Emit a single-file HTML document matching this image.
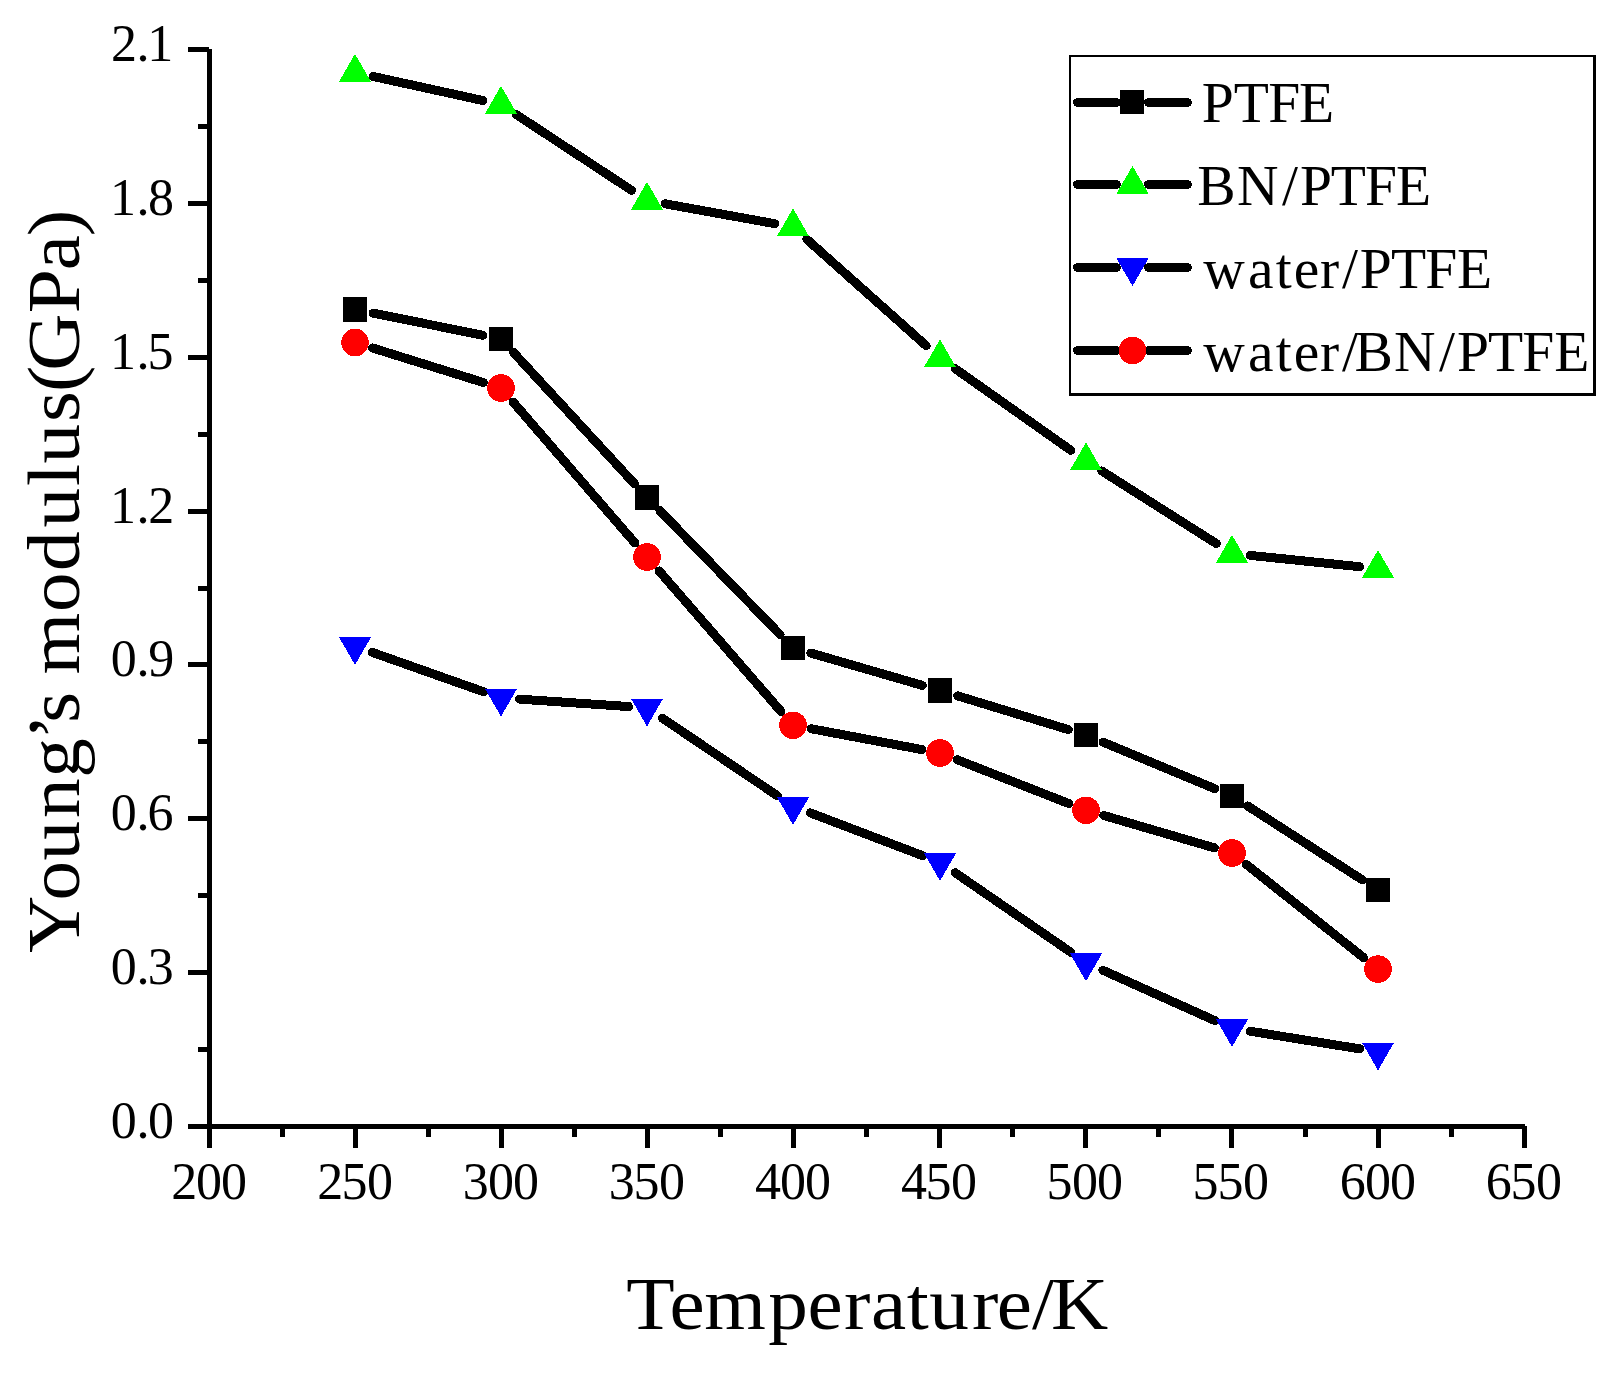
<!DOCTYPE html>
<html><head><meta charset="utf-8"><title>Young's modulus vs Temperature</title>
<style>html,body{margin:0;padding:0;background:#fff;}svg{display:block;}</style>
</head><body>
<svg width="1623" height="1373" viewBox="0 0 1623 1373" shape-rendering="crispEdges">
<rect x="0" y="0" width="1623" height="1373" fill="#fff"/>
<rect x="207" y="49" width="5" height="1080" fill="#000"/>
<rect x="207" y="1124" width="1318" height="5" fill="#000"/>
<rect x="188" y="1124.00" width="21" height="5" fill="#000"/>
<rect x="198" y="1047.07" width="11" height="5" fill="#000"/>
<rect x="188" y="970.14" width="21" height="5" fill="#000"/>
<rect x="198" y="893.21" width="11" height="5" fill="#000"/>
<rect x="188" y="816.29" width="21" height="5" fill="#000"/>
<rect x="198" y="739.36" width="11" height="5" fill="#000"/>
<rect x="188" y="662.43" width="21" height="5" fill="#000"/>
<rect x="198" y="585.50" width="11" height="5" fill="#000"/>
<rect x="188" y="508.57" width="21" height="5" fill="#000"/>
<rect x="198" y="431.64" width="11" height="5" fill="#000"/>
<rect x="188" y="354.71" width="21" height="5" fill="#000"/>
<rect x="198" y="277.79" width="11" height="5" fill="#000"/>
<rect x="188" y="200.86" width="21" height="5" fill="#000"/>
<rect x="198" y="123.93" width="11" height="5" fill="#000"/>
<rect x="188" y="47.00" width="21" height="5" fill="#000"/>
<rect x="207.00" y="1126" width="5" height="22" fill="#000"/>
<rect x="280.00" y="1126" width="5" height="11" fill="#000"/>
<rect x="353.00" y="1126" width="5" height="22" fill="#000"/>
<rect x="426.00" y="1126" width="5" height="11" fill="#000"/>
<rect x="499.00" y="1126" width="5" height="22" fill="#000"/>
<rect x="572.00" y="1126" width="5" height="11" fill="#000"/>
<rect x="645.00" y="1126" width="5" height="22" fill="#000"/>
<rect x="718.00" y="1126" width="5" height="11" fill="#000"/>
<rect x="791.00" y="1126" width="5" height="22" fill="#000"/>
<rect x="864.00" y="1126" width="5" height="11" fill="#000"/>
<rect x="937.00" y="1126" width="5" height="22" fill="#000"/>
<rect x="1010.00" y="1126" width="5" height="11" fill="#000"/>
<rect x="1083.00" y="1126" width="5" height="22" fill="#000"/>
<rect x="1156.00" y="1126" width="5" height="11" fill="#000"/>
<rect x="1229.00" y="1126" width="5" height="22" fill="#000"/>
<rect x="1303.00" y="1126" width="5" height="11" fill="#000"/>
<rect x="1376.00" y="1126" width="5" height="22" fill="#000"/>
<rect x="1449.00" y="1126" width="5" height="11" fill="#000"/>
<rect x="1522.00" y="1126" width="5" height="22" fill="#000"/>
<text x="110.75 136.50 147.95" y="1138.00" font-family='"Liberation Serif", "DejaVu Serif", serif' font-size="52">0.0</text>
<text x="110.75 136.50 147.72" y="984.14" font-family='"Liberation Serif", "DejaVu Serif", serif' font-size="52">0.3</text>
<text x="110.75 136.50 147.61" y="830.29" font-family='"Liberation Serif", "DejaVu Serif", serif' font-size="52">0.6</text>
<text x="110.75 136.50 148.18" y="676.43" font-family='"Liberation Serif", "DejaVu Serif", serif' font-size="52">0.9</text>
<text x="110.03 136.50 148.24" y="522.57" font-family='"Liberation Serif", "DejaVu Serif", serif' font-size="52">1.2</text>
<text x="110.03 136.50 147.45" y="368.71" font-family='"Liberation Serif", "DejaVu Serif", serif' font-size="52">1.5</text>
<text x="110.03 136.50 147.95" y="214.86" font-family='"Liberation Serif", "DejaVu Serif", serif' font-size="52">1.8</text>
<text x="111.04 136.50 147.23" y="61.00" font-family='"Liberation Serif", "DejaVu Serif", serif' font-size="52">2.1</text>
<text x="171.29 196.00 220.90" y="1198.6" font-family='"Liberation Serif", "DejaVu Serif", serif' font-size="52">200</text>
<text x="317.29 341.50 366.90" y="1198.6" font-family='"Liberation Serif", "DejaVu Serif", serif' font-size="52">250</text>
<text x="462.77 488.00 512.90" y="1198.6" font-family='"Liberation Serif", "DejaVu Serif", serif' font-size="52">300</text>
<text x="608.77 633.50 658.90" y="1198.6" font-family='"Liberation Serif", "DejaVu Serif", serif' font-size="52">350</text>
<text x="754.90 780.00 804.90" y="1198.6" font-family='"Liberation Serif", "DejaVu Serif", serif' font-size="52">400</text>
<text x="900.90 925.50 950.90" y="1198.6" font-family='"Liberation Serif", "DejaVu Serif", serif' font-size="52">450</text>
<text x="1046.50 1072.00 1096.90" y="1198.6" font-family='"Liberation Serif", "DejaVu Serif", serif' font-size="52">500</text>
<text x="1192.50 1217.50 1242.90" y="1198.6" font-family='"Liberation Serif", "DejaVu Serif", serif' font-size="52">550</text>
<text x="1339.66 1365.00 1389.90" y="1198.6" font-family='"Liberation Serif", "DejaVu Serif", serif' font-size="52">600</text>
<text x="1485.66 1510.50 1535.90" y="1198.6" font-family='"Liberation Serif", "DejaVu Serif", serif' font-size="52">650</text>
<text transform="scale(1.06,1)" x="590.83 631.63 664.48 724.75 761.87 796.13 821.75 855.36 876.68 916.89 940.45 973.57 991.59" y="1328.9" font-family='"Liberation Serif", "DejaVu Serif", serif' font-size="74.8">Temperature/K</text>
<text transform="translate(78.8,948) rotate(-90) scale(1.06,1)" x="-4.73 44.79 82.67 122.66 160.55 195.97 212.48 241.59 257.97 317.10 355.69 396.63 435.79 457.01 496.30 524.61 544.51 598.72 639.48 671.38" y="0" font-family='"Liberation Serif", "DejaVu Serif", serif' font-size="74.8">Young’s modulus(GPa)</text>
<path d="M373.14 313.15L482.86 335.25M513.53 352.51L634.47 483.79M659.88 510.68L780.12 634.62M810.77 653.05L922.23 685.35M957.70 695.89L1068.30 729.61M1103.07 742.12L1214.93 788.78M1247.55 805.92L1362.45 879.98" stroke="#000" stroke-width="9" stroke-linecap="round" fill="none"/>
<path d="M373.07 76.46L482.93 100.54M516.46 114.66L631.54 190.34M665.20 203.80L774.80 223.70M806.81 239.31L926.19 345.69M955.12 368.66L1070.88 450.34M1101.63 470.90L1216.37 543.60M1250.40 555.40L1359.60 566.70" stroke="#000" stroke-width="9" stroke-linecap="round" fill="none"/>
<path d="M372.44 652.46L483.56 691.74M519.46 699.15L628.54 706.55M662.34 718.15L777.66 795.95M810.29 812.89L922.71 855.71M955.24 872.78L1070.76 952.22M1102.87 970.28L1215.13 1020.72M1250.26 1031.24L1359.74 1048.86" stroke="#000" stroke-width="9" stroke-linecap="round" fill="none"/>
<path d="M372.66 348.00L483.34 382.50M513.09 402.00L634.91 543.00M659.12 570.97L780.88 711.33M811.18 728.73L921.82 749.57M957.22 759.76L1068.78 803.54M1103.76 815.49L1214.24 847.81M1246.48 864.51L1363.52 957.59" stroke="#000" stroke-width="9" stroke-linecap="round" fill="none"/>
<rect x="342.80" y="297.30" width="24.4" height="24.4" fill="#000"/>
<rect x="488.80" y="326.70" width="24.4" height="24.4" fill="#000"/>
<rect x="634.80" y="485.20" width="24.4" height="24.4" fill="#000"/>
<rect x="780.80" y="635.70" width="24.4" height="24.4" fill="#000"/>
<rect x="927.80" y="678.30" width="24.4" height="24.4" fill="#000"/>
<rect x="1073.80" y="722.80" width="24.4" height="24.4" fill="#000"/>
<rect x="1219.80" y="783.70" width="24.4" height="24.4" fill="#000"/>
<rect x="1365.80" y="877.80" width="24.4" height="24.4" fill="#000"/>
<path d="M355.00 53.90L371.11 81.80L338.89 81.80Z" fill="#00ff00"/>
<path d="M501.00 85.90L517.11 113.80L484.89 113.80Z" fill="#00ff00"/>
<path d="M647.00 181.90L663.11 209.80L630.89 209.80Z" fill="#00ff00"/>
<path d="M793.00 208.40L809.11 236.30L776.89 236.30Z" fill="#00ff00"/>
<path d="M940.00 339.40L956.11 367.30L923.89 367.30Z" fill="#00ff00"/>
<path d="M1086.00 442.40L1102.11 470.30L1069.89 470.30Z" fill="#00ff00"/>
<path d="M1232.00 534.90L1248.11 562.80L1215.89 562.80Z" fill="#00ff00"/>
<path d="M1378.00 550.00L1394.11 577.90L1361.89 577.90Z" fill="#00ff00"/>
<path d="M355.00 664.90L371.11 637.00L338.89 637.00Z" fill="#0000ff"/>
<path d="M501.00 716.50L517.11 688.60L484.89 688.60Z" fill="#0000ff"/>
<path d="M647.00 726.40L663.11 698.50L630.89 698.50Z" fill="#0000ff"/>
<path d="M793.00 824.90L809.11 797.00L776.89 797.00Z" fill="#0000ff"/>
<path d="M940.00 880.90L956.11 853.00L923.89 853.00Z" fill="#0000ff"/>
<path d="M1086.00 981.30L1102.11 953.40L1069.89 953.40Z" fill="#0000ff"/>
<path d="M1232.00 1046.90L1248.11 1019.00L1215.89 1019.00Z" fill="#0000ff"/>
<path d="M1378.00 1070.40L1394.11 1042.50L1361.89 1042.50Z" fill="#0000ff"/>
<circle cx="355.00" cy="342.50" r="13.8" fill="#ff0000"/>
<circle cx="501.00" cy="388.00" r="13.8" fill="#ff0000"/>
<circle cx="647.00" cy="557.00" r="13.8" fill="#ff0000"/>
<circle cx="793.00" cy="725.30" r="13.8" fill="#ff0000"/>
<circle cx="940.00" cy="753.00" r="13.8" fill="#ff0000"/>
<circle cx="1086.00" cy="810.30" r="13.8" fill="#ff0000"/>
<circle cx="1232.00" cy="853.00" r="13.8" fill="#ff0000"/>
<circle cx="1378.00" cy="969.10" r="13.8" fill="#ff0000"/>
<rect x="1070" y="56" width="524.5" height="338.5" fill="none" stroke="#000" stroke-width="2"/>
<rect x="1593" y="57" width="3" height="339" fill="#000"/>
<rect x="1070" y="393" width="526" height="3" fill="#000"/>
<path d="M1077.5 102.5L1116.5 102.5M1148.5 102.5L1187.5 102.5" stroke="#000" stroke-width="9" stroke-linecap="round"/>
<rect x="1120" y="90" width="24" height="24" fill="#000"/>
<text x="1201.83 1233.80 1268.27 1298.99" y="122.0" font-family='"Liberation Serif", "DejaVu Serif", serif' font-size="57.5">PTFE</text>
<path d="M1077.5 184.5L1116.5 184.5M1148.5 184.5L1187.5 184.5" stroke="#000" stroke-width="9" stroke-linecap="round"/>
<path d="M1132.50 165.90L1148.61 193.80L1116.39 193.80Z" fill="#00ff00"/>
<text x="1197.30 1236.97 1281.91 1299.88 1330.80 1365.02 1395.99" y="204.9" font-family='"Liberation Serif", "DejaVu Serif", serif' font-size="57.5">BN/PTFE</text>
<path d="M1077.5 267.5L1116.5 267.5M1148.5 267.5L1187.5 267.5" stroke="#000" stroke-width="9" stroke-linecap="round"/>
<path d="M1132.50 286.10L1148.61 258.20L1116.39 258.20Z" fill="#0000ff"/>
<text x="1203.19 1247.97 1275.75 1293.71 1320.00 1341.96 1359.78 1390.90 1425.22 1457.04" y="287.8" font-family='"Liberation Serif", "DejaVu Serif", serif' font-size="57.5">water/PTFE</text>
<path d="M1077.5 350.5L1116.5 350.5M1148.5 350.5L1187.5 350.5" stroke="#000" stroke-width="9" stroke-linecap="round"/>
<circle cx="1132.5" cy="350.5" r="13.8" fill="#ff0000"/>
<text x="1203.19 1247.97 1275.75 1293.71 1320.00 1341.96 1354.50 1394.02 1438.96 1456.98 1488.00 1522.17 1554.14" y="370.7" font-family='"Liberation Serif", "DejaVu Serif", serif' font-size="57.5">water/BN/PTFE</text>
</svg>
</body></html>
